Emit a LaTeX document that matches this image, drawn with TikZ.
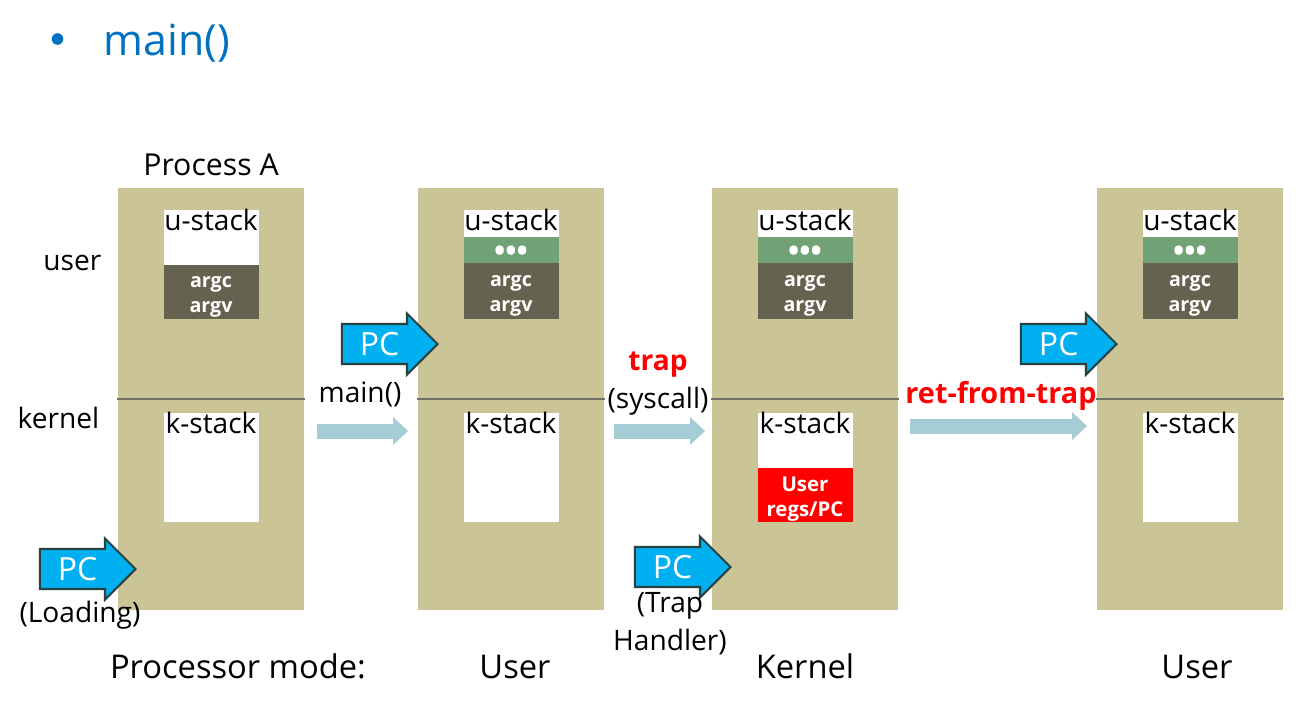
\documentclass[tikz,border=0pt]{standalone}
\usepackage{fontspec}
\setmainfont{Open Sans}
\usepackage{xcolor}
\usetikzlibrary{shapes,arrows,positioning,calc,arrows.meta}

\definecolor{procfill}{RGB}{203,196,150}
\definecolor{argfill}{RGB}{102,98,80}
\definecolor{dotfill}{RGB}{113,162,118}
\definecolor{flowblue}{RGB}{166,204,214}
\definecolor{pcblue}{RGB}{0,176,240}
\definecolor{pcedge}{RGB}{40,66,66}
\definecolor{titleblue}{RGB}{0,112,192}
\definecolor{divgray}{RGB}{112,112,102}

\tikzset{
    proc/.style={fill=procfill, minimum width=1.86cm, minimum height=4.22cm, inner sep=0pt},
    divider/.style={divgray, line width=0.7pt},
    stackbox/.style={fill=white, minimum width=0.95cm, inner sep=0pt},
    argbox/.style={fill=argfill, minimum width=0.95cm, inner sep=0pt, text=white, align=center,
        font=\fontsize{5.6}{7.1}\selectfont\bfseries},
    dotbox/.style={fill=dotfill, minimum width=0.95cm, minimum height=0.26cm, inner sep=0pt, text=white,
        text height=6.4pt, text depth=0pt, font=\fontsize{8.5}{8.5}\selectfont\bfseries},
    regbox/.style={fill=red, minimum width=0.95cm, minimum height=0.54cm, inner sep=0pt, text=white, align=center,
        font=\fontsize{5.8}{7.1}\selectfont\bfseries},
    txt/.style={font=\fontsize{8}{10}\selectfont, inner sep=0pt},
    modetxt/.style={font=\fontsize{9.3}{11}\selectfont, inner sep=0pt, anchor=base},
    redtxt/.style={font=\fontsize{8}{10}\selectfont\bfseries, text=red, inner sep=0pt, anchor=base},
    flow/.style={line width=0.15cm, flowblue, -{Triangle[length=0.15cm, width=0.28cm, line width=0pt]}},
    pcarrow/.style={single arrow, single arrow head extend=0.105cm, single arrow head indent=0pt,
        fill=pcblue, draw=pcedge, line width=0.6pt, text=white, font=\fontsize{9.1}{10}\selectfont,
        text height=6.6pt, text depth=0pt, inner xsep=0.17cm, inner ysep=2.1pt}
}

\begin{document}
\begin{tikzpicture}
    \useasboundingbox (0,0) rectangle (13.10,-7.12);

    % Title
    \fill[titleblue] (0.575,-0.39) circle (0.058);
    \node[anchor=base west, text=titleblue, inner sep=0pt, font=\fontsize{12.2}{14}\selectfont] (title) at (1.03,-0.55) {main()};

    % Processes
    \node[proc] (procA) at (2.11,-3.99) {};
    \node[proc] (procB) at (5.11,-3.99) {};
    \node[proc] (procC) at (8.05,-3.99) {};
    \node[proc] (procD) at (11.90,-3.99) {};
    \foreach \p in {procA,procB,procC,procD}
        \draw[divider] (\p.west) -- (\p.east);

    \node[txt, anchor=base, font=\fontsize{8.6}{10}\selectfont] (procname) at (2.11,-1.75) {Process A};
    \node[txt, anchor=base east] (usermode) at (1.02,-2.70) {user};
    \node[txt, anchor=base east] (kernelmode) at (1.00,-4.28) {kernel};

    % Stacks
    \node[stackbox, minimum height=0.55cm] (ustackA) at (2.11,-2.375) {};
    \node[argbox, minimum height=0.54cm] (argsA) at (2.11,-2.92) {};
    \node[stackbox, minimum height=1.09cm] (kstackA) at (2.11,-4.675) {};

    \node[stackbox, minimum height=0.27cm] (ustackB) at (5.11,-2.235) {};
    \node[dotbox] (dotsB) at (5.11,-2.50) {•••};
    \node[argbox, minimum height=0.56cm] (argsB) at (5.11,-2.91) {};
    \node[stackbox, minimum height=1.09cm] (kstackB) at (5.11,-4.675) {};

    \node[stackbox, minimum height=0.27cm] (ustackC) at (8.05,-2.235) {};
    \node[dotbox] (dotsC) at (8.05,-2.50) {•••};
    \node[argbox, minimum height=0.56cm] (argsC) at (8.05,-2.91) {};
    \node[stackbox, minimum height=0.55cm] (kstackC) at (8.05,-4.405) {};
    \node[regbox] (regsC) at (8.05,-4.95) {};
    \node[regbox, fill=none, yshift=-1.2pt] (regstxt) at (regsC) {User\\regs/PC};

    \node[stackbox, minimum height=0.27cm] (ustackD) at (11.90,-2.235) {};
    \node[dotbox] (dotsD) at (11.90,-2.50) {•••};
    \node[argbox, minimum height=0.56cm] (argsD) at (11.90,-2.91) {};
    \node[stackbox, minimum height=1.09cm] (kstackD) at (11.90,-4.675) {};

    \foreach \x/\s in {2.11/A,5.11/B,8.05/C,11.90/D} {
        \node[txt, anchor=base] (ulabel\s) at (\x,-2.30) {u-stack};
        \node[txt, anchor=base] (klabel\s) at (\x,-4.33) {k-stack};
        \node[argbox, fill=none, yshift=-1.3pt] (argtxt\s) at (args\s) {argc\\argv};
    }

    % Transitions
    \coordinate (mainS) at (3.17,-4.31);
    \coordinate (mainE) at (4.08,-4.31);
    \draw[flow] (mainS) -- (mainE);
    \node[txt, anchor=base] (maintxt) at (3.60,-4.02) {main()};

    \coordinate (trapS) at (6.14,-4.31);
    \coordinate (trapE) at (7.05,-4.31);
    \draw[flow] (trapS) -- (trapE);
    \node[redtxt] (traptxt) at (6.58,-3.70) {trap};
    \node[txt, anchor=base] (syscalltxt) at (6.58,-4.08) {(syscall)};

    \coordinate (retS) at (9.10,-4.26);
    \coordinate (retE) at (10.87,-4.26);
    \draw[flow] (retS) -- (retE);
    \node[redtxt, font=\fontsize{8.2}{10}\selectfont\bfseries] (rettxt) at (10.01,-4.03) {ret-from-trap};

    % PC
    \node[pcarrow, anchor=tip] (pcLoad) at (1.37,-5.69) {PC};
    \node[pcarrow, anchor=tip] (pcMain) at (4.39,-3.44) {PC};
    \node[pcarrow, anchor=tip] (pcTrap) at (7.32,-5.67) {PC};
    \node[pcarrow, anchor=tip] (pcRet) at (11.18,-3.44) {PC};
    \node[txt, anchor=base] (loadtxt) at (0.80,-6.22) {(Loading)};
    \node[txt, anchor=base, align=center, font=\fontsize{8}{10.8}\selectfont] (handlertxt) at (6.70,-6.50) {(Trap\\Handler)};

    % Processor mode
    \node[modetxt] (modetxt) at (2.38,-6.78) {Processor mode:};
    \node[modetxt] (modeB) at (5.15,-6.78) {User};
    \node[modetxt] (modeC) at (8.05,-6.78) {Kernel};
    \node[modetxt] (modeD) at (11.97,-6.78) {User};
\end{tikzpicture}
\end{document}
